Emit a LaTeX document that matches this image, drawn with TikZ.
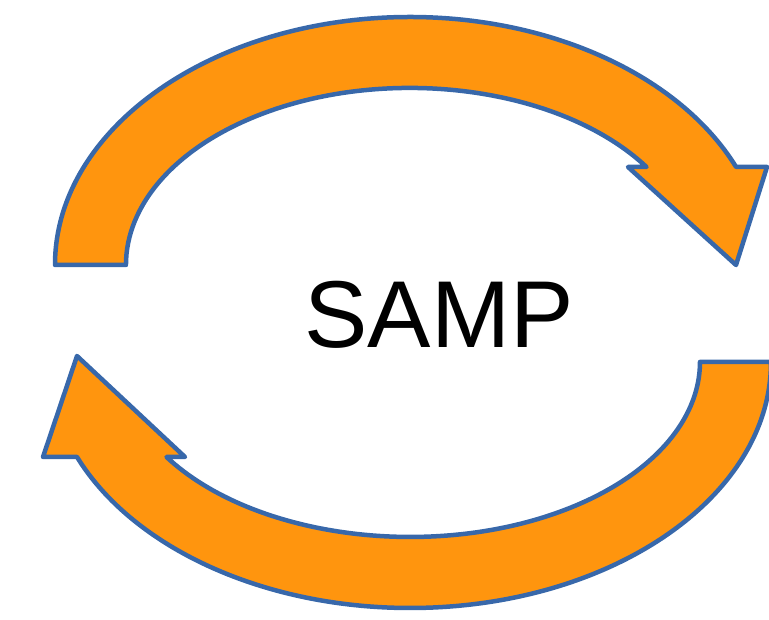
\documentclass[tikz,border=0pt]{standalone}
\usepackage{fontspec}
\setmainfont{Liberation Sans}
\definecolor{arroworange}{RGB}{255,149,14}
\definecolor{arrowblue}{RGB}{56,104,170}
\begin{document}
\begin{tikzpicture}[x=1pt,y=1pt,
  cyclearrow/.style={fill=arroworange,draw=arrowblue,line width=4.5pt,line join=round}]
\clip (0,0) rectangle (769,620);
% upper arrow, running clockwise from the left towards the right
\draw[cyclearrow] (55,355)
  arc[start angle=180,end angle=23.3,x radius=355,y radius=248]
  -- (767,453) -- (736,355) -- (628,453) -- (646.5,453)
  arc[start angle=33.6,end angle=180,x radius=284,y radius=177]
  -- cycle;
% lower arrow, running clockwise from the right towards the left
\draw[cyclearrow] (771,258)
  arc[start angle=360,end angle=202.7,x radius=361,y radius=246]
  -- (43,163) -- (77,264) -- (185,163) -- (166.5,163)
  arc[start angle=212.9,end angle=360,x radius=290,y radius=175]
  -- cycle;
\node (label) at (439,305) {\fontsize{95}{114}\selectfont SAMP};
\end{tikzpicture}
\end{document}
